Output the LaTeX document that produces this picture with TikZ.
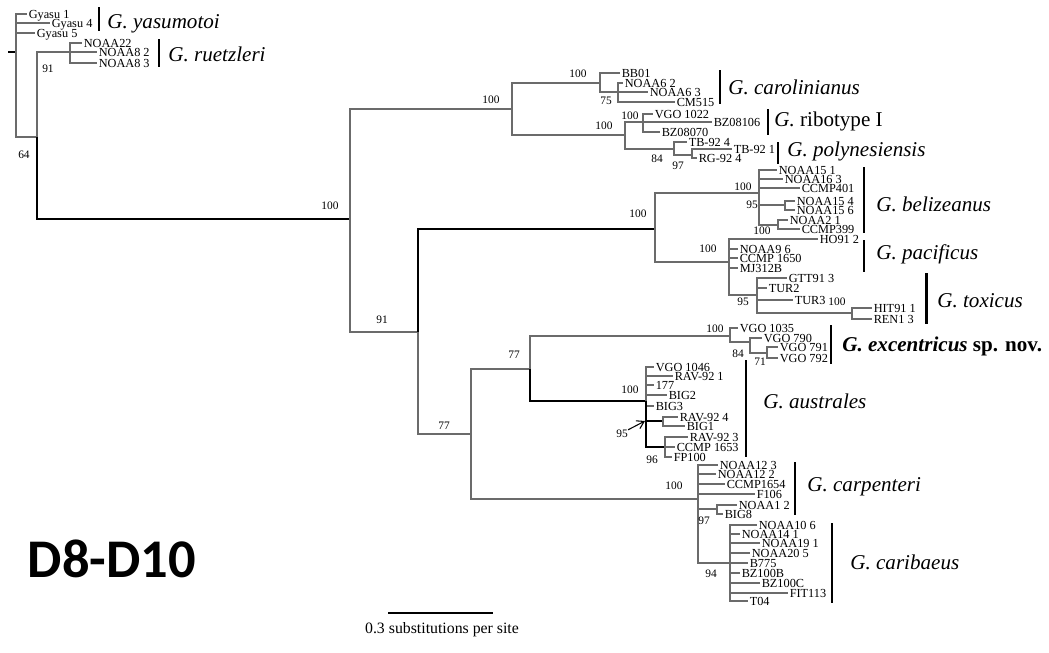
\documentclass[tikz,border=0pt]{standalone}
\usepackage{fontspec}
\setmainfont{Liberation Serif}
\newfontfamily\panelfont{Carlito}
\usetikzlibrary{arrows.meta}

\begin{document}
\begin{tikzpicture}[x=0.02cm, y=-0.02cm,
  branch/.style={draw=black!58, line width=0.8pt},
  dark/.style={draw=black, line width=0.8pt},
  leaf/.style={anchor=west, inner sep=0.8pt, text height=4.6pt, text depth=0pt, font=\fontsize{7}{8}\selectfont},
  boot/.style={inner sep=0pt, font=\fontsize{6.5}{7}\selectfont},
  species/.style={anchor=west, inner sep=0pt, text height=7.9pt, text depth=0pt, font=\fontsize{12}{14}\selectfont\itshape},
  cladebar/.style={line width=1.7pt}]
\useasboundingbox (0,0) rectangle (1049,653);

% internal nodes
\coordinate (r0) at (8,52);
\coordinate (root) at (16,52);
\coordinate (n64) at (37,137);
\coordinate (nrue) at (70,52);
\coordinate (n100a) at (350,219);
\coordinate (ncr) at (512,109);
\coordinate (ncar) at (600,83);
\coordinate (ncar2) at (618,92);
\coordinate (nrp) at (625,135);
\coordinate (nrib) at (643,122);
\coordinate (npol) at (674,149);
\coordinate (npol2) at (692,155);
\coordinate (n91) at (418,332);
\coordinate (nbpt) at (655,229);
\coordinate (nbel) at (759,193);
\coordinate (nbel1) at (785,205);
\coordinate (nbel2) at (778,225);
\coordinate (npt) at (729,262);
\coordinate (ntox) at (757,295);
\coordinate (ntox2) at (852,313);
\coordinate (n77a) at (471,434);
\coordinate (n77b) at (530,369);
\coordinate (nexc) at (730,336);
\coordinate (nexc2) at (750,342);
\coordinate (nexc3) at (767,353);
\coordinate (naus) at (646,401);
\coordinate (naus1) at (663,421);
\coordinate (naus2) at (665,447);
\coordinate (a95) at (645,421);
\coordinate (ncc) at (698,499);
\coordinate (ncpt) at (717,509);
\coordinate (ncrb) at (730,563);

% leaves
\node[leaf] (gy1) at (27,14) {Gyasu 1};
\node[leaf] (gy4) at (50,23) {Gyasu 4};
\node[leaf] (gy5) at (35,33) {Gyasu 5};
\node[leaf] (n22) at (82,43) {NOAA22};
\node[leaf] (n82) at (97,52) {NOAA8 2};
\node[leaf] (n83) at (97,63) {NOAA8 3};
\node[leaf] (bb01) at (620,73) {BB01};
\node[leaf] (n62) at (623,83) {NOAA6 2};
\node[leaf] (n63) at (648,92) {NOAA6 3};
\node[leaf] (cm515) at (675,102) {CM515};
\node[leaf] (v1022) at (653,114) {VGO 1022};
\node[leaf] (bz106) at (712,122) {BZ08106};
\node[leaf] (bz070) at (660,132) {BZ08070};
\node[leaf] (tb4) at (687,142) {TB-92 4};
\node[leaf] (tb1) at (732,149) {TB-92 1};
\node[leaf] (rg4) at (697,158) {RG-92 4};
\node[leaf] (n151) at (777,170) {NOAA15 1};
\node[leaf] (n163) at (783,179) {NOAA16 3};
\node[leaf] (cc401) at (800,188) {CCMP401};
\node[leaf] (n154) at (795,201) {NOAA15 4};
\node[leaf] (n156) at (795,210) {NOAA15 6};
\node[leaf] (n21) at (788,220) {NOAA2 1};
\node[leaf] (cc399) at (800,229) {CCMP399};
\node[leaf] (ho912) at (818,239) {HO91 2};
\node[leaf] (n96) at (738,249) {NOAA9 6};
\node[leaf] (cc1650) at (738,258) {CCMP 1650};
\node[leaf] (mj312) at (738,268) {MJ312B};
\node[leaf] (gtt) at (787,278) {GTT91 3};
\node[leaf] (tur2) at (767,288) {TUR2};
\node[leaf] (tur3) at (793,300) {TUR3};
\node[leaf] (hit) at (872,308) {HIT91 1};
\node[leaf] (ren) at (872,319) {REN1 3};
\node[leaf] (v1035) at (738,328) {VGO 1035};
\node[leaf] (v790) at (762,338) {VGO 790};
\node[leaf] (v791) at (778,347) {VGO 791};
\node[leaf] (v792) at (778,358) {VGO 792};
\node[leaf] (v1046) at (654,367) {VGO 1046};
\node[leaf] (rav1) at (673,376) {RAV-92 1};
\node[leaf] (l177) at (654,385) {177};
\node[leaf] (big2) at (667,395) {BIG2};
\node[leaf] (big3) at (654,406) {BIG3};
\node[leaf] (rav4) at (678,417) {RAV-92 4};
\node[leaf] (big1) at (685,426) {BIG1};
\node[leaf] (rav3) at (688,437) {RAV-92 3};
\node[leaf] (cc1653) at (675,447) {CCMP 1653};
\node[leaf] (fp100) at (672,457) {FP100};
\node[leaf] (n123) at (718,465) {NOAA12 3};
\node[leaf] (n122) at (716,474) {NOAA12 2};
\node[leaf] (cc1654) at (725,484) {CCMP1654};
\node[leaf] (f106) at (755,494) {F106};
\node[leaf] (n12) at (737,505) {NOAA1 2};
\node[leaf] (big8) at (723,514) {BIG8};
\node[leaf] (n106) at (757,525) {NOAA10 6};
\node[leaf] (n141) at (740,534) {NOAA14 1};
\node[leaf] (n191) at (760,543) {NOAA19 1};
\node[leaf] (n205) at (750,553) {NOAA20 5};
\node[leaf] (b775) at (748,563) {B775};
\node[leaf] (bz100b) at (740,573) {BZ100B};
\node[leaf] (bz100c) at (760,583) {BZ100C};
\node[leaf] (fit113) at (788,593) {FIT113};
\node[leaf] (t04) at (748,601) {T04};

% branches
\draw[dark] (r0) -- (root);
\draw[branch] (root) |- (gy1.west) (root) |- (gy4.west) (root) |- (gy5.west) (root) |- (n64);
\draw[branch] (n64) |- (nrue);
\draw[dark] (n64) |- (n100a);
\draw[branch] (nrue) |- (n22.west) (nrue) |- (n82.west) (nrue) |- (n83.west);
\draw[branch] (n100a) |- (ncr) (n100a) |- (n91);
\draw[branch] (ncr) |- (ncar) (ncr) |- (nrp);
\draw[branch] (ncar) |- (bb01.west) (ncar) |- (ncar2);
\draw[branch] (ncar2) |- (n62.west) (ncar2) |- (n63.west) (ncar2) |- (cm515.west);
\draw[branch] (nrp) |- (nrib) (nrp) |- (npol);
\draw[branch] (nrib) |- (v1022.west) (nrib) |- (bz106.west) (nrib) |- (bz070.west);
\draw[branch] (npol) |- (tb4.west) (npol) |- (npol2);
\draw[branch] (npol2) |- (tb1.west) (npol2) |- (rg4.west);
\draw[dark] (n91) |- (nbpt);
\draw[branch] (n91) |- (n77a);
\draw[branch] (nbpt) |- (nbel) (nbpt) |- (npt);
\draw[branch] (nbel) |- (n151.west) (nbel) |- (n163.west) (nbel) |- (cc401.west) (nbel) |- (nbel1) (nbel) |- (nbel2);
\draw[branch] (nbel1) |- (n154.west) (nbel1) |- (n156.west);
\draw[branch] (nbel2) |- (n21.west) (nbel2) |- (cc399.west);
\draw[branch] (npt) |- (ho912.west) (npt) |- (n96.west) (npt) |- (cc1650.west) (npt) |- (mj312.west) (npt) |- (ntox);
\draw[branch] (ntox) |- (gtt.west) (ntox) |- (tur2.west) (ntox) |- (tur3.west) (ntox) |- (ntox2);
\draw[branch] (ntox2) |- (hit.west) (ntox2) |- (ren.west);
\draw[branch] (n77a) |- (n77b) (n77a) |- (ncc);
\draw[branch] (n77b) |- (nexc);
\draw[dark] (n77b) |- (naus);
\draw[branch] (nexc) |- (v1035.west) (nexc) |- (nexc2);
\draw[branch] (nexc2) |- (v790.west) (nexc2) |- (nexc3);
\draw[branch] (nexc3) |- (v791.west) (nexc3) |- (v792.west);
\draw[branch] (naus) |- (v1046.west) (naus) |- (rav1.west) (naus) |- (l177.west) (naus) |- (big2.west) (naus) |- (big3.west);
\draw[dark] (naus) |- (naus1) (naus) |- (naus2);
\draw[branch] (naus1) |- (rav4.west) (naus1) |- (big1.west);
\draw[branch] (naus2) |- (rav3.west) (naus2) |- (cc1653.west) (naus2) |- (fp100.west);
\draw[branch] (ncc) |- (n123.west) (ncc) |- (n122.west) (ncc) |- (cc1654.west) (ncc) |- (f106.west) (ncc) |- (ncpt) (ncc) |- (ncrb);
\draw[branch] (ncpt) |- (n12.west) (ncpt) |- (big8.west);
\draw[branch] (ncrb) |- (n106.west) (ncrb) |- (n141.west) (ncrb) |- (n191.west) (ncrb) |- (n205.west) (ncrb) |- (b775.west)
  (ncrb) |- (bz100b.west) (ncrb) |- (bz100c.west) (ncrb) |- (fit113.west) (ncrb) |- (t04.west);

% support values
\node[boot] (b64) at (24,155) {64};
\node[boot] (b91a) at (48,69) {91};
\node[boot] (b100a) at (330,206) {100};
\node[boot] (b100b) at (491,100) {100};
\node[boot] (b100c) at (578,74) {100};
\node[boot] (b75) at (606,101) {75};
\node[boot] (b100d) at (604,126) {100};
\node[boot] (b100e) at (630,116) {100};
\node[boot] (b84a) at (657,159) {84};
\node[boot] (b97a) at (678,166) {97};
\node[boot] (b91b) at (382,320) {91};
\node[boot] (b100f) at (638,214) {100};
\node[boot] (b100g) at (743,187) {100};
\node[boot] (b95a) at (752,205) {95};
\node[boot] (b100h) at (762,231) {100};
\node[boot] (b100i) at (708,249) {100};
\node[boot] (b95b) at (743,302) {95};
\node[boot] (b100j) at (837,302) {100};
\node[boot] (b77a) at (444,426) {77};
\node[boot] (b77b) at (514,355) {77};
\node[boot] (b100k) at (715,329) {100};
\node[boot] (b84b) at (738,354) {84};
\node[boot] (b71) at (760,362) {71};
\node[boot] (b100l) at (630,390) {100};
\node[boot] (b95c) at (622,434) {95};
\node[boot] (b96) at (652,460) {96};
\node[boot] (b100m) at (674,486) {100};
\node[boot] (b97b) at (704,521) {97};
\node[boot] (b94) at (711,574) {94};
\draw[-{Straight Barb[length=4pt,width=5pt]}, line width=0.6pt] (b95c.north east) -- (a95);

% species bars
\draw[cladebar] (99,7) -- (99,31);
\draw[cladebar] (159,39) -- (159,67);
\draw[cladebar] (720,70) -- (720,104);
\draw[cladebar] (768,109) -- (768,135);
\draw[cladebar] (778,142) -- (778,164);
\draw[cladebar] (864,167) -- (864,233);
\draw[cladebar] (864,240) -- (864,272);
\draw[cladebar] (926,273) -- (926,324);
\draw[cladebar] (831,325) -- (831,364);
\draw[cladebar] (746,360) -- (746,457);
\draw[cladebar] (795,462) -- (795,515);
\draw[cladebar] (832,523) -- (832,603);
\node[species] (yas) at (107,22) {G. yasumotoi};
\node[species] (rue) at (168,55) {G. ruetzleri};
\node[species] (crl) at (728,88) {G. carolinianus};
\node[species] (rib) at (774,120) {G. \upshape ribotype I};
\node[species] (pol) at (787,150) {G. polynesiensis};
\node[species] (bel) at (876,205) {G. belizeanus};
\node[species] (pac) at (876,253) {G. pacificus};
\node[species] (tox) at (937,301) {G. toxicus};
\node[species] (exc) at (842,345) {\bfseries G. excentricus \upshape sp. nov.};
\node[species] (aus) at (763,402) {G. australes};
\node[species] (cpt) at (807,485) {G. carpenteri};
\node[species] (crb) at (850,563) {G. caribaeus};

% scale and panel
\coordinate (sb1) at (388,613);
\coordinate (sb2) at (493,613);
\draw[line width=0.7pt] (sb1) -- (sb2);
\node[font=\fontsize{9}{10}\selectfont] (sbl) at (442,630) {0.3 substitutions per site};
\node[font=\panelfont\bfseries\fontsize{31}{34}\selectfont] (panel) at (112,559) {D8-D10};
\end{tikzpicture}
\end{document}
